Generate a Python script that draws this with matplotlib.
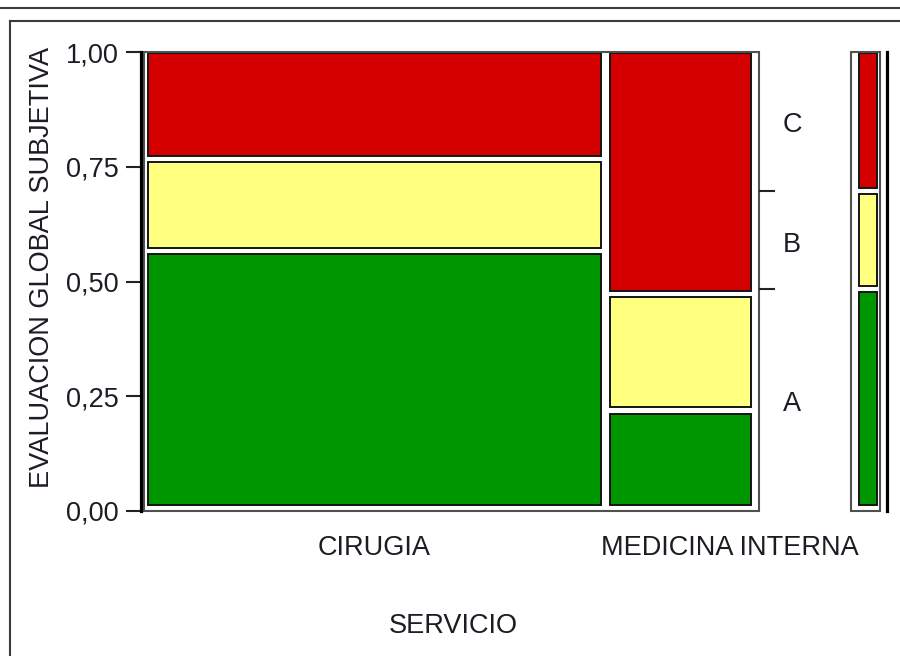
import matplotlib.pyplot as plt
import matplotlib.transforms as mtransforms
from matplotlib.patches import Rectangle
from matplotlib.lines import Line2D
from matplotlib.ticker import FixedLocator

plt.rcParams['font.family'] = ['Liberation Sans', 'DejaVu Sans']

# conteos por servicio y nivel de evaluacion (A, B, C)
servicios = ["CIRUGIA", "MEDICINA INTERNA"]
niveles = ["A", "B", "C"]
conteo_cirugia = [44, 15, 18]
conteo_medicina = [5, 6, 13]
etiquetas_y = ["0,00", "0,25", "0,50", "0,75", "1,00"]

colores = {"A": "#009600", "B": "#ffff80", "C": "#d40000"}
color_texto = "#1c1c24"
tam = 19.5

W, H = 900, 656
fig = plt.figure(figsize=(W / 100, H / 100), dpi=100)


def caja_px(x0, y0, x1, y1):
    return [x0 / W, 1 - y1 / H, (x1 - x0) / W, (y1 - y0) / H]


def apilar(conteos, px_y, arriba=1, abajo=6, hueco=6.5):
    # devuelve (y, alto) de cada bloque, proporcional al conteo
    total = sum(conteos)
    libre = 1 - (arriba + abajo + hueco * (len(conteos) - 1)) * px_y
    y = abajo * px_y
    bloques = []
    for n in conteos:
        h = n / total * libre
        bloques.append((y, h))
        y += h + hueco * px_y
    return bloques


def dibujar_columna(ax, x0, x1, conteos, px_y):
    for nivel, (y, h) in zip(niveles, apilar(conteos, px_y)):
        ax.add_patch(Rectangle((x0, y), x1 - x0, h, fc=colores[nivel],
                               ec="#141414", lw=1.4))


###########################################################################
# grafico de mosaico principal
###########################################################################
ax = fig.add_axes(caja_px(144, 52, 759, 511))
ax.set_xlim(0, 1)
ax.set_ylim(0, 1)
px_x = 1 / 615
px_y = 1 / 459

columnas = [conteo_cirugia, conteo_medicina]
totales = [sum(c) for c in columnas]
libre_x = 1 - (4 + 8 + 9) * px_x
x = 4 * px_x
centros = []
bordes = []
for conteos, tot in zip(columnas, totales):
    w = tot / sum(totales) * libre_x
    dibujar_columna(ax, x, x + w, conteos, px_y)
    centros.append(x + w / 2)
    bordes.append(x + w)
    x += w + 9 * px_x

for s in ax.spines.values():
    s.set_visible(False)
ax.add_patch(Rectangle((0, 0), 1, 1, transform=ax.transAxes, fill=False,
                       ec="#505050", lw=1.5, clip_on=False))
ax.spines["left"].set_visible(True)
ax.spines["left"].set_color("black")
ax.spines["left"].set_linewidth(2.3)
ax.spines["left"].set_position(("outward", 2.5))

ax.set_yticks([0, 0.25, 0.5, 0.75, 1])
ax.set_yticklabels(etiquetas_y)
ax.tick_params(axis="y", length=11, width=1.5, color="#222222", pad=5,
               labelsize=tam, labelcolor=color_texto)

ax.set_xticks([centros[0], bordes[0]])
ax.set_xticklabels(servicios)
ax.get_xticklabels()[1].set_horizontalalignment("left")
ax.tick_params(axis="x", which="major", length=0, pad=17, labelsize=tam,
               labelcolor=color_texto)
ax.xaxis.set_minor_locator(FixedLocator([bordes[0]]))
ax.tick_params(axis="x", which="minor", length=9.5, width=1.5, color="#222222")

# eje derecho con los niveles marginales
marginal = [a + b for a, b in zip(conteo_cirugia, conteo_medicina)]
bloques_m = apilar(marginal, px_y)
cortes = [y + h + 3.25 * px_y for y, h in bloques_m[:-1]]
medios = [y + h / 2 for y, h in bloques_m]

ax2 = ax.twinx()
ax2.set_ylim(0, 1)
for s in ax2.spines.values():
    s.set_visible(False)
ax2.set_yticks(cortes)
ax2.set_yticklabels([])
ax2.tick_params(axis="y", which="major", length=11.5, width=1.5, color="#222222")

trans_niv = mtransforms.blended_transform_factory(ax.transAxes, ax.transData)
trans_niv = mtransforms.offset_copy(trans_niv, fig=fig, x=33, y=-5, units="dots")
for nivel, m in zip(niveles, medios):
    ax.text(1, m, nivel, transform=trans_niv, ha="center", va="center",
            fontsize=tam, color=color_texto)

###########################################################################
# barra marginal
###########################################################################
axm = fig.add_axes(caja_px(851, 52, 880, 511))
axm.set_xlim(0, 1)
axm.set_ylim(0, 1)
dibujar_columna(axm, 8 / 29, 26 / 29, marginal, px_y)
for s in axm.spines.values():
    s.set_visible(False)
axm.add_patch(Rectangle((0, 0), 1, 1, transform=axm.transAxes, fill=False,
                        ec="#505050", lw=1.5, clip_on=False))
axm.spines["right"].set_visible(True)
axm.spines["right"].set_color("black")
axm.spines["right"].set_linewidth(2.3)
axm.spines["right"].set_position(("outward", 5))
axm.set_xticks([])
axm.set_yticks([])

###########################################################################
# titulos de ejes y marco
###########################################################################
fig.text(42 / W, 1 - 267 / H, "EVALUACION GLOBAL SUBJETIVA", rotation=90,
         ha="center", va="center", fontsize=tam, color=color_texto)
fig.text(453 / W, 1 - 626 / H, "SERVICIO", ha="center", va="center",
         fontsize=tam, color=color_texto)

fig.add_artist(Line2D([0, 1], [1 - 8 / H] * 2, transform=fig.transFigure,
                      color="#3a3a3a", lw=1.5))
fig.add_artist(Line2D([10 / W, 1], [1 - 21 / H] * 2, transform=fig.transFigure,
                      color="#3a3a3a", lw=1.5))
fig.add_artist(Line2D([10 / W] * 2, [0, 1 - 21 / H], transform=fig.transFigure,
                      color="#3a3a3a", lw=1.5))

fig.savefig("out.png", dpi=100)
